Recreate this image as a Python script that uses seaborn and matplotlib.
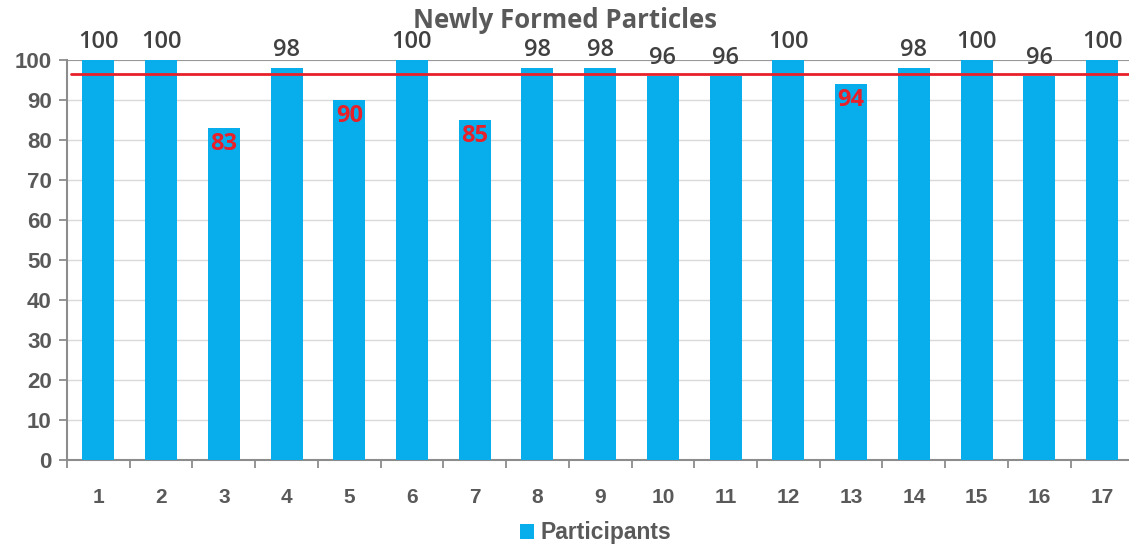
import matplotlib
matplotlib.use("Agg")
import matplotlib.pyplot as plt
from matplotlib.ticker import FixedLocator
from matplotlib.patches import Patch
import seaborn as sns
import pandas as pd

participants = [str(i) for i in range(1, 18)]
scores = [100, 100, 83, 98, 90, 100, 85, 98, 98, 96, 96, 100, 94, 98, 100, 96, 100]
threshold = 96.4
title = "Newly Formed Particles"
series_name = "Participants"

BAR = "#07AEEB"
GRAY = "#595959"
RED = "#E8202A"

sns.set_theme(style="white")
plt.rcParams["font.family"] = ["Liberation Sans", "DejaVu Sans"]

fig = plt.figure(figsize=(11.29, 5.47), dpi=100)
ax = fig.add_axes([67 / 1129, 87 / 547, 1062 / 1129, 400 / 547])

df = pd.DataFrame({"participant": participants, "score": scores})
sns.barplot(data=df, x="participant", y="score", color=BAR, width=0.51,
            saturation=1, linewidth=0, edgecolor="none", ax=ax, zorder=3)

ax.set_ylim(0, 100)
ax.set_xlim(-0.5, 16.43)
ax.set_yticks(range(0, 101, 10))
ax.yaxis.grid(True, color="#D9D9D9", linewidth=1, zorder=0)
ax.axhline(100, color="#8C8C8C", linewidth=1.2, zorder=1)

for s in ["top", "right"]:
    ax.spines[s].set_visible(False)
for s in ["left", "bottom"]:
    ax.spines[s].set_color("#8C8C8C")
    ax.spines[s].set_linewidth(1.5)

ax.tick_params(axis="y", which="major", left=True, length=6, width=1.3,
               color="#8C8C8C", labelsize=16, labelcolor=GRAY, pad=5)
ax.tick_params(axis="x", which="major", bottom=False, labelsize=15,
               labelcolor=GRAY, pad=14)
ax.xaxis.set_minor_locator(FixedLocator([i + 0.5 for i in range(-1, 17)]))
ax.tick_params(axis="x", which="minor", bottom=True, length=6, width=1.3,
               color="#8C8C8C")
for lab in ax.get_xticklabels() + ax.get_yticklabels():
    lab.set_fontweight("bold")
ax.set_xlabel("")
ax.set_ylabel("")

ax.axhline(threshold, xmin=0.004, xmax=1, color=RED, linewidth=2, zorder=4)

for i, v in enumerate(scores):
    if v < threshold - 1:
        ax.text(i, v - 1.0, f"{v}", ha="center", va="top", fontsize=17,
                color=RED, fontweight="bold", family="Open Sans", zorder=5)
    else:
        ax.text(i, v + 1.6, f"{v}", ha="center", va="bottom", fontsize=17,
                color="#404040", family="Open Sans", fontweight="semibold",
                clip_on=False, zorder=5)

fig.text(565 / 1129, 1 - 21 / 547, title, ha="center", va="center",
         fontsize=18.5, color=GRAY, family="Open Sans", fontweight="bold")

handle = Patch(facecolor=BAR, edgecolor="none")
fig.legend([handle], [series_name], loc="center", bbox_to_anchor=(596 / 1129, 1 - 533 / 547),
           frameon=False, handlelength=0.6, handleheight=0.6, handletextpad=0.3,
           prop={"size": 16.5, "weight": "bold"}, labelcolor=GRAY)

fig.savefig("out.png", dpi=100)
